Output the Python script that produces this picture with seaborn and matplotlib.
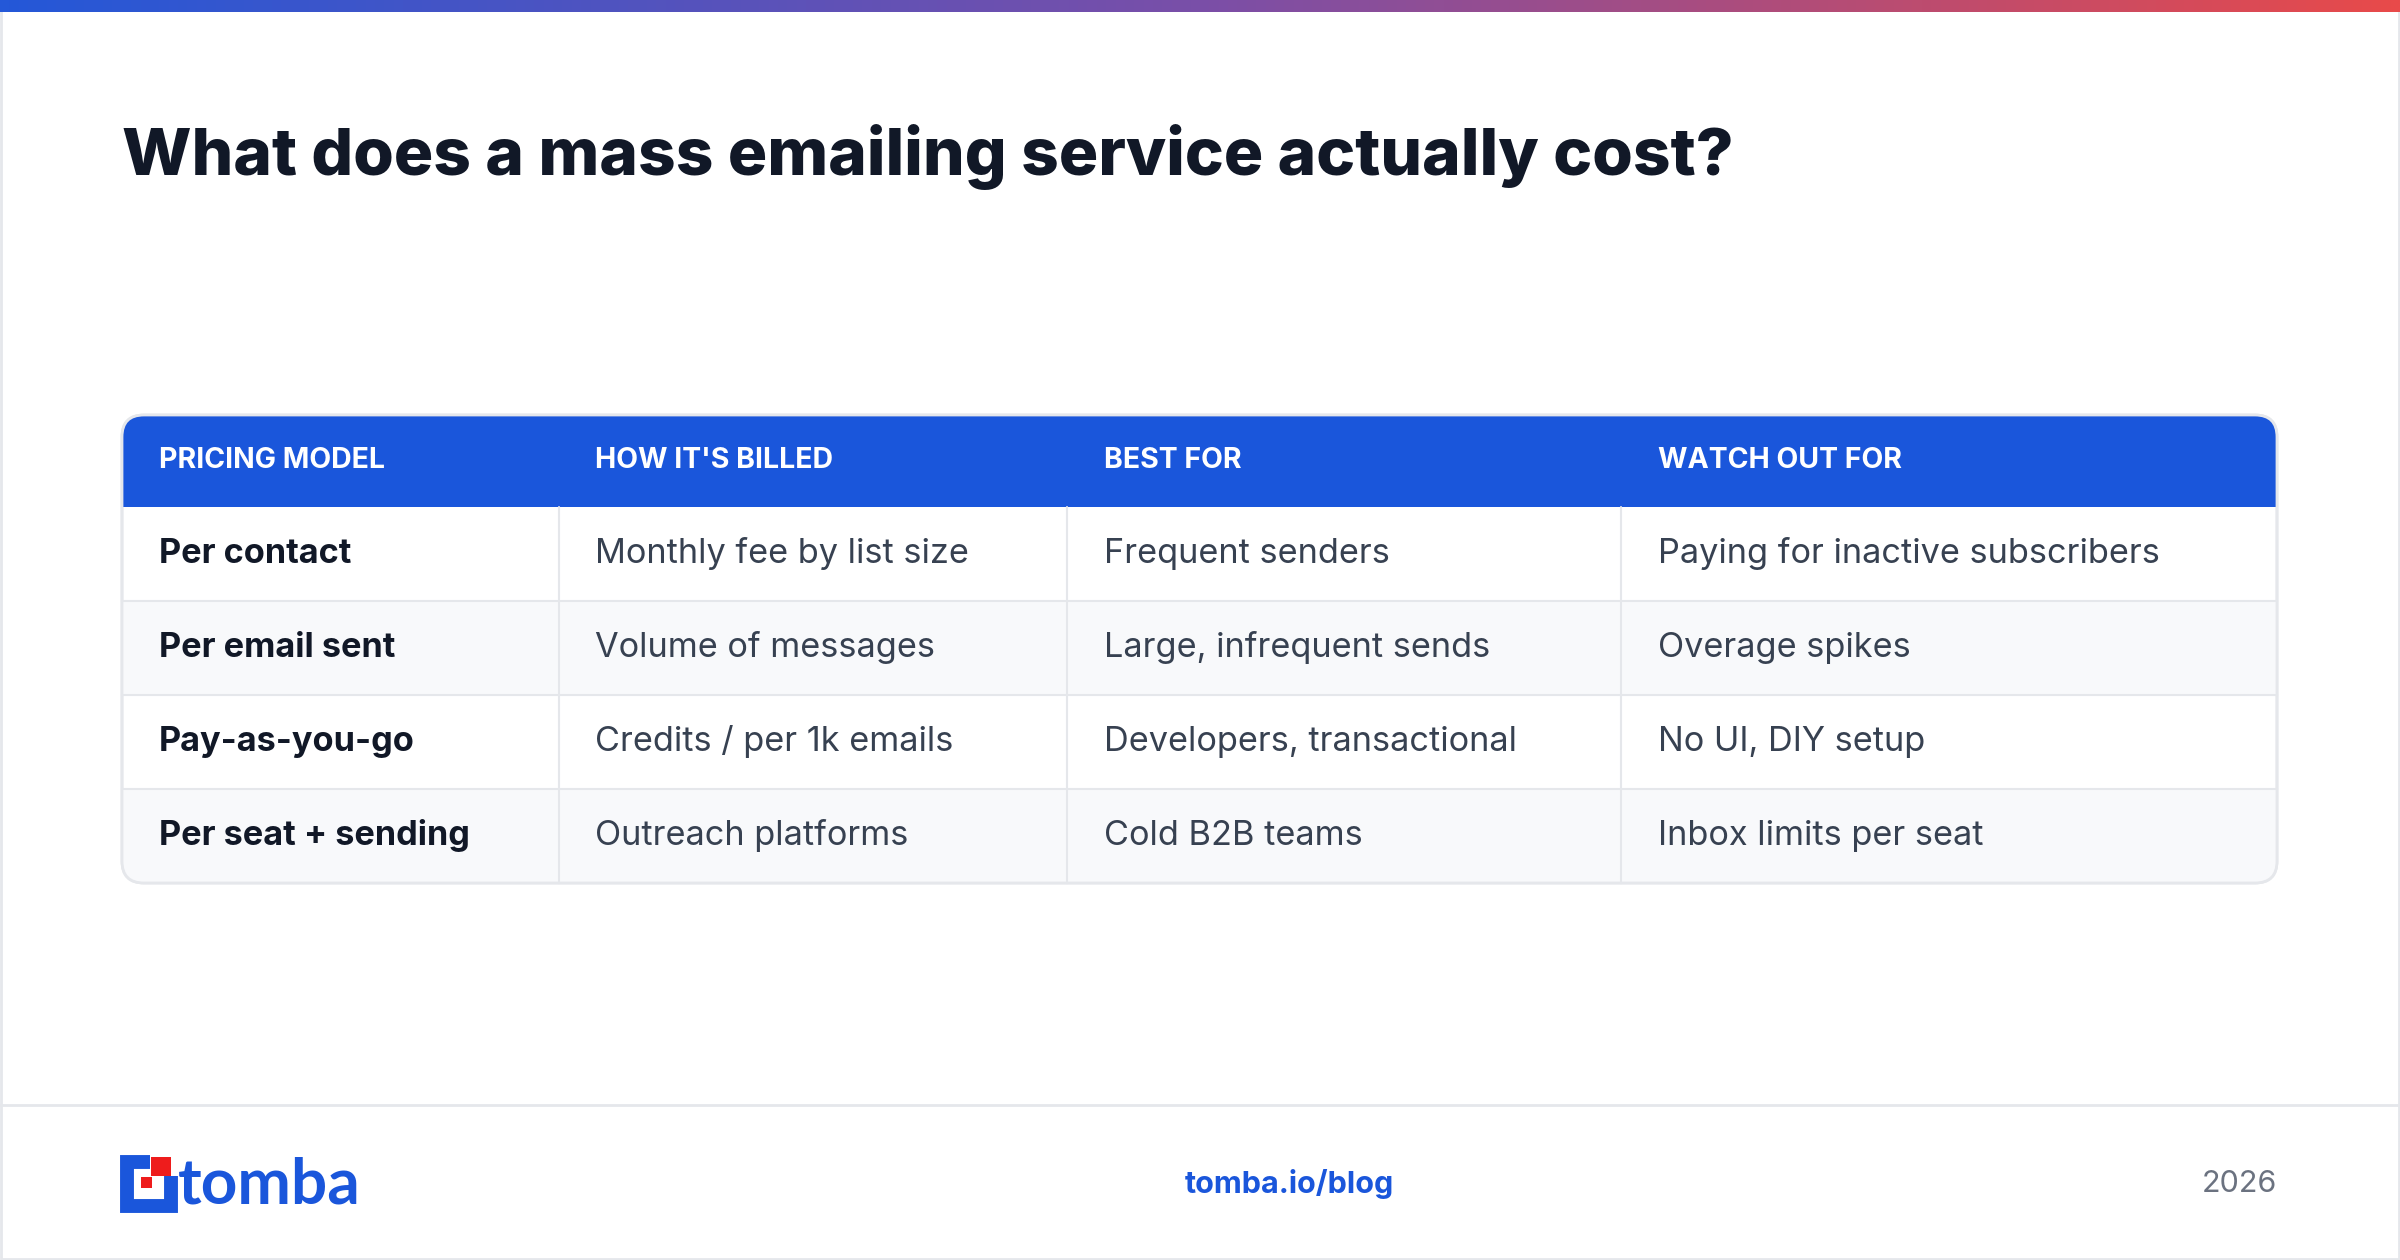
import matplotlib
matplotlib.use("Agg")
import matplotlib.pyplot as plt
import seaborn as sns
import numpy as np
from matplotlib.patches import FancyBboxPatch, Rectangle
from matplotlib.colors import LinearSegmentedColormap

sns.set_theme(style="white")
plt.rcParams['font.family'] = ['Inter', 'DejaVu Sans']

title = "What does a mass emailing service actually cost?"
headers = ["PRICING MODEL", "HOW IT'S BILLED", "BEST FOR", "WATCH OUT FOR"]
models = ["Per contact", "Per email sent", "Pay-as-you-go", "Per seat + sending"]
billed = ["Monthly fee by list size", "Volume of messages", "Credits / per 1k emails", "Outreach platforms"]
best_for = ["Frequent senders", "Large, infrequent sends", "Developers, transactional", "Cold B2B teams"]
watch_out = ["Paying for inactive subscribers", "Overage spikes", "No UI, DIY setup", "Inbox limits per seat"]
footer_url = "tomba.io/blog"
footer_year = "2026"

W, H = 2400, 1260
fig = plt.figure(figsize=(24, 12.6), dpi=100)
ax = fig.add_axes([0, 0, 1, 1])

BLUE = "#1a56db"; DARK = "#111827"; BODY = "#374151"; GRID = "#e5e7eb"

grad = np.linspace(0, 1, 256).reshape(1, -1)
cm = LinearSegmentedColormap.from_list("g", ["#2458d8", "#7a4fa8", "#e84a4a"])
ax.imshow(grad, cmap=cm, extent=[0, W, 12, 0], aspect="auto", zorder=1)
ax.set_xlim(0, W); ax.set_ylim(H, 0); ax.axis("off")
ax.add_patch(Rectangle((1, 1), W - 2, H - 2, fill=False, ec=GRID, lw=2, zorder=0))

ax.text(122, 157, title, fontsize=47.3, fontweight="heavy", color=DARK, va="center", ha="left")

x0, x1 = 122, 2277
y0, hh, rh = 415, 92, 94
colx = [x0, 559, 1067, 1621, x1]
txtx = [159, 595, 1104, 1658]
n = len(models)
y1 = y0 + hh + rh * n
clip = FancyBboxPatch((x0, y0), x1 - x0, y1 - y0, boxstyle="round,pad=0,rounding_size=22",
                      fc="white", ec=GRID, lw=2, zorder=2)
ax.add_patch(clip)
hdr = Rectangle((x0, y0), x1 - x0, hh, fc=BLUE, ec="none", zorder=3)
ax.add_patch(hdr); hdr.set_clip_path(clip)
for c, h in enumerate(headers):
    ax.text(txtx[c], y0 + hh / 2, h, fontsize=20.5, fontweight="bold", color="white", va="center", zorder=5)
rows = list(zip(models, billed, best_for, watch_out))
for r, row in enumerate(rows):
    ry = y0 + hh + r * rh
    if r % 2 == 1:
        p = Rectangle((x0, ry), x1 - x0, rh, fc="#f8f9fb", ec="none", zorder=3)
        ax.add_patch(p); p.set_clip_path(clip)
    if r > 0:
        ax.plot([x0, x1], [ry, ry], color=GRID, lw=1.5, zorder=4)
    for c, v in enumerate(row):
        ax.text(txtx[c], ry + rh / 2, v, fontsize=24.7, va="center",
                fontweight="bold" if c == 0 else "normal", color=DARK if c == 0 else BODY, zorder=5)
for cx in colx[1:-1]:
    ax.plot([cx, cx], [y0 + hh, y1], color=GRID, lw=1.5, zorder=4)
border = FancyBboxPatch((x0, y0), x1 - x0, y1 - y0, boxstyle="round,pad=0,rounding_size=22",
                        fc="none", ec=GRID, lw=2, zorder=6)
ax.add_patch(border)

ax.plot([0, W], [1105, 1105], color=GRID, lw=2, zorder=2)
ax.text(1289, 1184, footer_url, fontsize=22, fontweight="bold", color=BLUE, ha="center", va="center")
ax.text(2277, 1184, footer_year, fontsize=22, color="#6b7280", ha="right", va="center")

RED = "#ee1c1c"
ax.add_patch(Rectangle((127, 1162), 44, 44, fc="none", ec=BLUE, lw=10, zorder=3))
ax.add_patch(Rectangle((150, 1150), 28, 26, fc="white", ec="none", zorder=4))
ax.add_patch(Rectangle((151, 1157), 20, 19, fc=RED, ec="none", zorder=5))
ax.add_patch(Rectangle((141, 1177), 11, 11, fc=RED, ec="none", zorder=5))
ax.text(178, 1185, "tomba", fontsize=46, fontweight="bold", color=BLUE, va="center", ha="left",
        family=["Lato", "DejaVu Sans"])

fig.savefig("out.png", dpi=100, facecolor="white")
